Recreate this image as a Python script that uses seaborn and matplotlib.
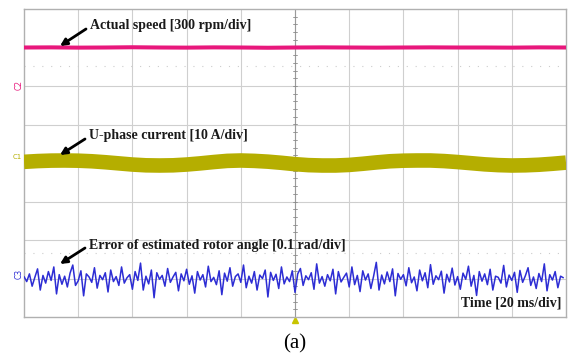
import numpy as np
import pandas as pd
import seaborn as sns
import matplotlib.pyplot as plt

# -------------------------------
# Data
# -------------------------------
# actual speed, sampled every 10 ms (rpm), 300 rpm/div
speed_time_ms = list(range(0, 201, 10))
speed_rpm = [1000, 1001, 999, 1000, 1002, 1000, 999, 1001, 1000, 998, 1000,
             1001, 1000, 999, 1000, 1001, 1000, 1000, 999, 1001, 1000]

# U-phase current envelope centre, every 5 ms (A), 10 A/div
current_time_ms = list(range(0, 201, 5))
current_a = [0.3, 0.5, 0.62, 0.65, 0.6, 0.45, 0.2, -0.1, -0.4, -0.6,
             -0.65, -0.6, -0.4, -0.1, 0.25, 0.55, 0.65, 0.55, 0.35, 0.05,
             -0.3, -0.55, -0.65, -0.65, -0.5, -0.2, 0.15, 0.45, 0.6, 0.65,
             0.65, 0.5, 0.25, -0.05, -0.35, -0.55, -0.65, -0.6, -0.45, -0.2, 0.1]

# error of estimated rotor angle, every 1 ms (mrad), 0.1 rad/div
angle_time_ms = list(range(0, 200))
angle_err_mrad = [
    5, -8, 12, -20, 3, 25, -30, 8, -12, 18, -5, 30, -40, 10, -15, 6, -22, 14, 35, -18,
    -6, 20, -45, 12, 4, -10, 28, -25, 8, -3, 15, -35, 22, -8, 5, -18, 30, -12, 2, 10,
    -28, 18, -5, 40, -30, 6, -14, 22, -50, 15, -2, 8, -20, 26, -10, 4, 16, -32, 12, -6,
    24, -15, 7, -38, 18, -4, 10, -22, 32, -8, 3, -16, 20, -42, 14, -7, 28, -20, 5, 12,
    -10, 35, -24, 6, -12, 18, -30, 9, 0, 22, -48, 16, -5, 11, -26, 30, -14, 4, -8, 20,
    -36, 12, 26, -18, 7, -3, 15, -28, 38, -12, 5, -20, 10, -6, 24, -40, 18, -9, 3, 14,
    -22, 30, -16, 8, -34, 20, -4, 12, -26, 6, 42, -30, 9, -14, 17, -8, 25, -45, 13, -2,
    10, -19, 28, -11, 4, -32, 22, -6, 15, -24, 36, -15, 7, -3, 19, -38, 11, -9, 27, -17,
    5, -28, 14, -2, 32, -20, 8, -44, 18, -7, 12, -16, 24, -30, 6, 3, -12, 34, -22, 9,
    -5, 16, -36, 21, -10, 7, 28, -18, 4, -26, 13, -8, 38, -32, 10, -4, 18, -24, 6, 2,
]

# -------------------------------
# Convert to screen divisions
# -------------------------------
ms_per_div = 20
speed_df = pd.DataFrame({"t": np.array(speed_time_ms) / ms_per_div,
                         "y": 7 + (np.array(speed_rpm) - 1000) / 300})
current_df = pd.DataFrame({"t": np.array(current_time_ms) / ms_per_div,
                           "y": 4 + np.array(current_a) / 10})
angle_df = pd.DataFrame({"t": np.array(angle_time_ms) / ms_per_div,
                         "y": 1 + np.array(angle_err_mrad) / 100})

PINK = "#e8187c"
OLIVE = "#b5ae00"
BLUE = "#2d2dd4"

sns.set_style("white")
fig = plt.figure(figsize=(5.68, 3.6), dpi=100)
ax = fig.add_axes([24 / 568, 43 / 360, 542 / 568, 308 / 360])
ax.set_xlim(0, 10)
ax.set_ylim(0, 8)

# grid
for gx in range(1, 10):
    ax.axvline(gx, color="#cfcfcf", lw=0.8, zorder=0)
for gy in range(1, 8):
    ax.axhline(gy, color="#cfcfcf", lw=0.8, zorder=0)
for gy in [6.52, 1.66]:
    ax.axhline(gy, color="#cccccc", lw=0.8, ls=(0, (1, 7)), zorder=0)
ax.axvline(5, color="#9a9a9a", lw=0.8, zorder=1)
for ty in np.arange(0.2, 8, 0.2):
    ax.plot([4.96, 5.04], [ty, ty], color="#8a8a8a", lw=0.6, zorder=1)
for spine in ax.spines.values():
    spine.set_color("#b0b0b0")
    spine.set_linewidth(1.0)

# traces
sns.lineplot(data=speed_df, x="t", y="y", ax=ax, color=PINK, lw=2.9, zorder=3)
sns.lineplot(data=current_df, x="t", y="y", ax=ax, color=OLIVE, lw=10.5,
             solid_capstyle="butt", zorder=3)
sns.lineplot(data=angle_df, x="t", y="y", ax=ax, color=BLUE, lw=1.1, zorder=3)
ax.set_xticks([])
ax.set_yticks([])
ax.set_xlabel("")
ax.set_ylabel("")


def px(x, y):
    return ((x - 24) / 54.2, (317 - y) / 38.5)


font = dict(family="Liberation Serif", weight="bold", size=10, color="#1a1a1a")
arrow = dict(arrowstyle="-|>", color="black", lw=2.0, mutation_scale=10,
             shrinkA=0, shrinkB=0)
labels = [("Actual speed [300 rpm/div]", (90, 26), (86, 29), (60, 46)),
          ("U-phase current [10 A/div]", (89, 136), (85, 139), (60, 155)),
          ("Error of estimated rotor angle [0.1 rad/div]", (89, 245), (85, 248), (60, 264))]
for text, pos, tail, head in labels:
    ax.text(*px(*pos), text, va="center", ha="left", **font)
    ax.annotate("", xy=px(*head), xytext=px(*tail), arrowprops=arrow)
ax.text(*px(561, 303), "Time [20 ms/div]", va="center", ha="right", **font)

# channel markers and trigger mark
fig.text(19 / 568, 1 - 85 / 360, "C2", color=PINK, fontsize=5.5, rotation=90,
         ha="center", va="center")
fig.text(17 / 568, 1 - 157 / 360, "C1", color=OLIVE, fontsize=5,
         ha="center", va="center")
fig.text(19 / 568, 1 - 274 / 360, "C3", color=BLUE, fontsize=5.5, rotation=90,
         ha="center", va="center")
ax.plot([5], [-0.09], marker="^", color="#c8c400", markersize=4, clip_on=False)

fig.text(295 / 568, 1 - 344 / 360, "(a)", family="Liberation Serif", fontsize=15,
         ha="center", va="center", color="black")

fig.savefig("out.png", dpi=100)
